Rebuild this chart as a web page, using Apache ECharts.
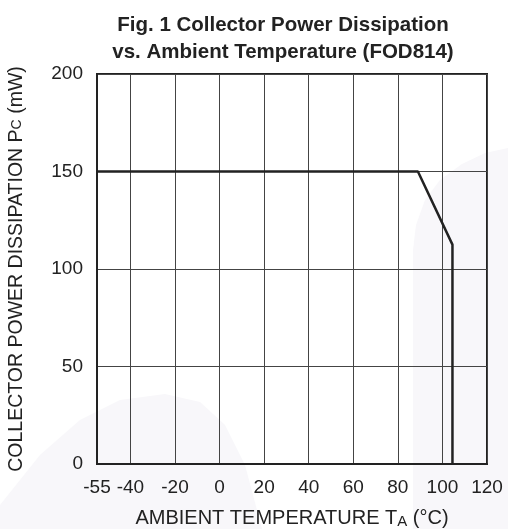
<!DOCTYPE html>
<html><head><meta charset="utf-8">
<script src="https://cdn.jsdelivr.net/npm/echarts@6/dist/echarts.min.js"></script>
<style>html,body{margin:0;padding:0;background:#fff}#c{width:508px;height:529px}</style>
</head><body><div id="c"></div>
<script>
const xTicks = [-55, -40, -20, 0, 20, 40, 60, 80, 100, 120];
const yTicks = [0, 50, 100, 150, 200];
const temperature = [-55, 89, 104.5, 104.5];
const power = [150, 150, 112.5, 0];

const chart = echarts.init(document.getElementById('c'));
const font = 'Liberation Sans, Arial, Helvetica, sans-serif';
chart.setOption({
  animation: false,
  backgroundColor: '#fff',
  graphic: [
    { type: 'polygon', z: -10, silent: true,
      shape: { points: [[413,529],[413,250],[416,225],[425,200],[440,180],[462,164],[485,153],[508,148],[508,529]] },
      style: { fill: '#f8f7fa' } },
    { type: 'polygon', z: -10, silent: true,
      shape: { points: [[0,505],[40,455],[80,420],[120,400],[165,394],[200,402],[225,425],[245,465],[262,529],[0,529]] },
      style: { fill: '#f8f7fa' } }
  ],
  title: {
    text: 'Fig. 1 Collector Power Dissipation\nvs. Ambient Temperature (FOD814)',
    left: 278, top: 7, textAlign: 'center',
    textStyle: { fontFamily: font, fontSize: 20.5, fontWeight: 'bold', color: '#222', lineHeight: 27 }
  },
  grid: { left: 97, right: 21, top: 74, bottom: 65, show: true, borderColor: '#222', borderWidth: 2,
          containLabel: false, outerBoundsMode: 'none' },
  xAxis: {
    type: 'value', min: -55, max: 120,
    name: 'AMBIENT TEMPERATURE T{sub|A} (°C)',
    nameLocation: 'middle', nameGap: 43,
    nameTextStyle: { fontFamily: font, fontSize: 20, color: '#222',
      rich: { sub: { fontFamily: font, fontSize: 15, color: '#222', verticalAlign: 'bottom', padding: [7,0,0,0] } } },
    axisLine: { show: true, onZero: false, lineStyle: { color: '#222', width: 2 } },
    axisTick: { show: false, customValues: xTicks },
    axisLabel: { customValues: xTicks, fontFamily: font, fontSize: 19, color: '#222', margin: 14, showMinLabel: true, showMaxLabel: true },
    splitLine: { show: true, lineStyle: { color: '#444', width: 1 } }
  },
  yAxis: {
    type: 'value', min: 0, max: 200, interval: 50,
    name: 'COLLECTOR POWER DISSIPATION P{sub|C} (mW)',
    nameLocation: 'middle', nameGap: 70,
    nameTextStyle: { fontFamily: font, fontSize: 19.5, color: '#222',
      rich: { sub: { fontFamily: font, fontSize: 14, color: '#222' } } },
    axisLine: { show: true, onZero: false, lineStyle: { color: '#222', width: 2 } },
    axisTick: { show: false },
    axisLabel: { fontFamily: font, fontSize: 19, color: '#222', margin: 14 },
    splitLine: { show: true, lineStyle: { color: '#444', width: 1 } }
  },
  series: [{
    type: 'line', symbol: 'none',
    data: temperature.map((t, i) => [t, power[i]]),
    lineStyle: { color: '#222', width: 2.5 }
  }]
});
</script></body></html>
